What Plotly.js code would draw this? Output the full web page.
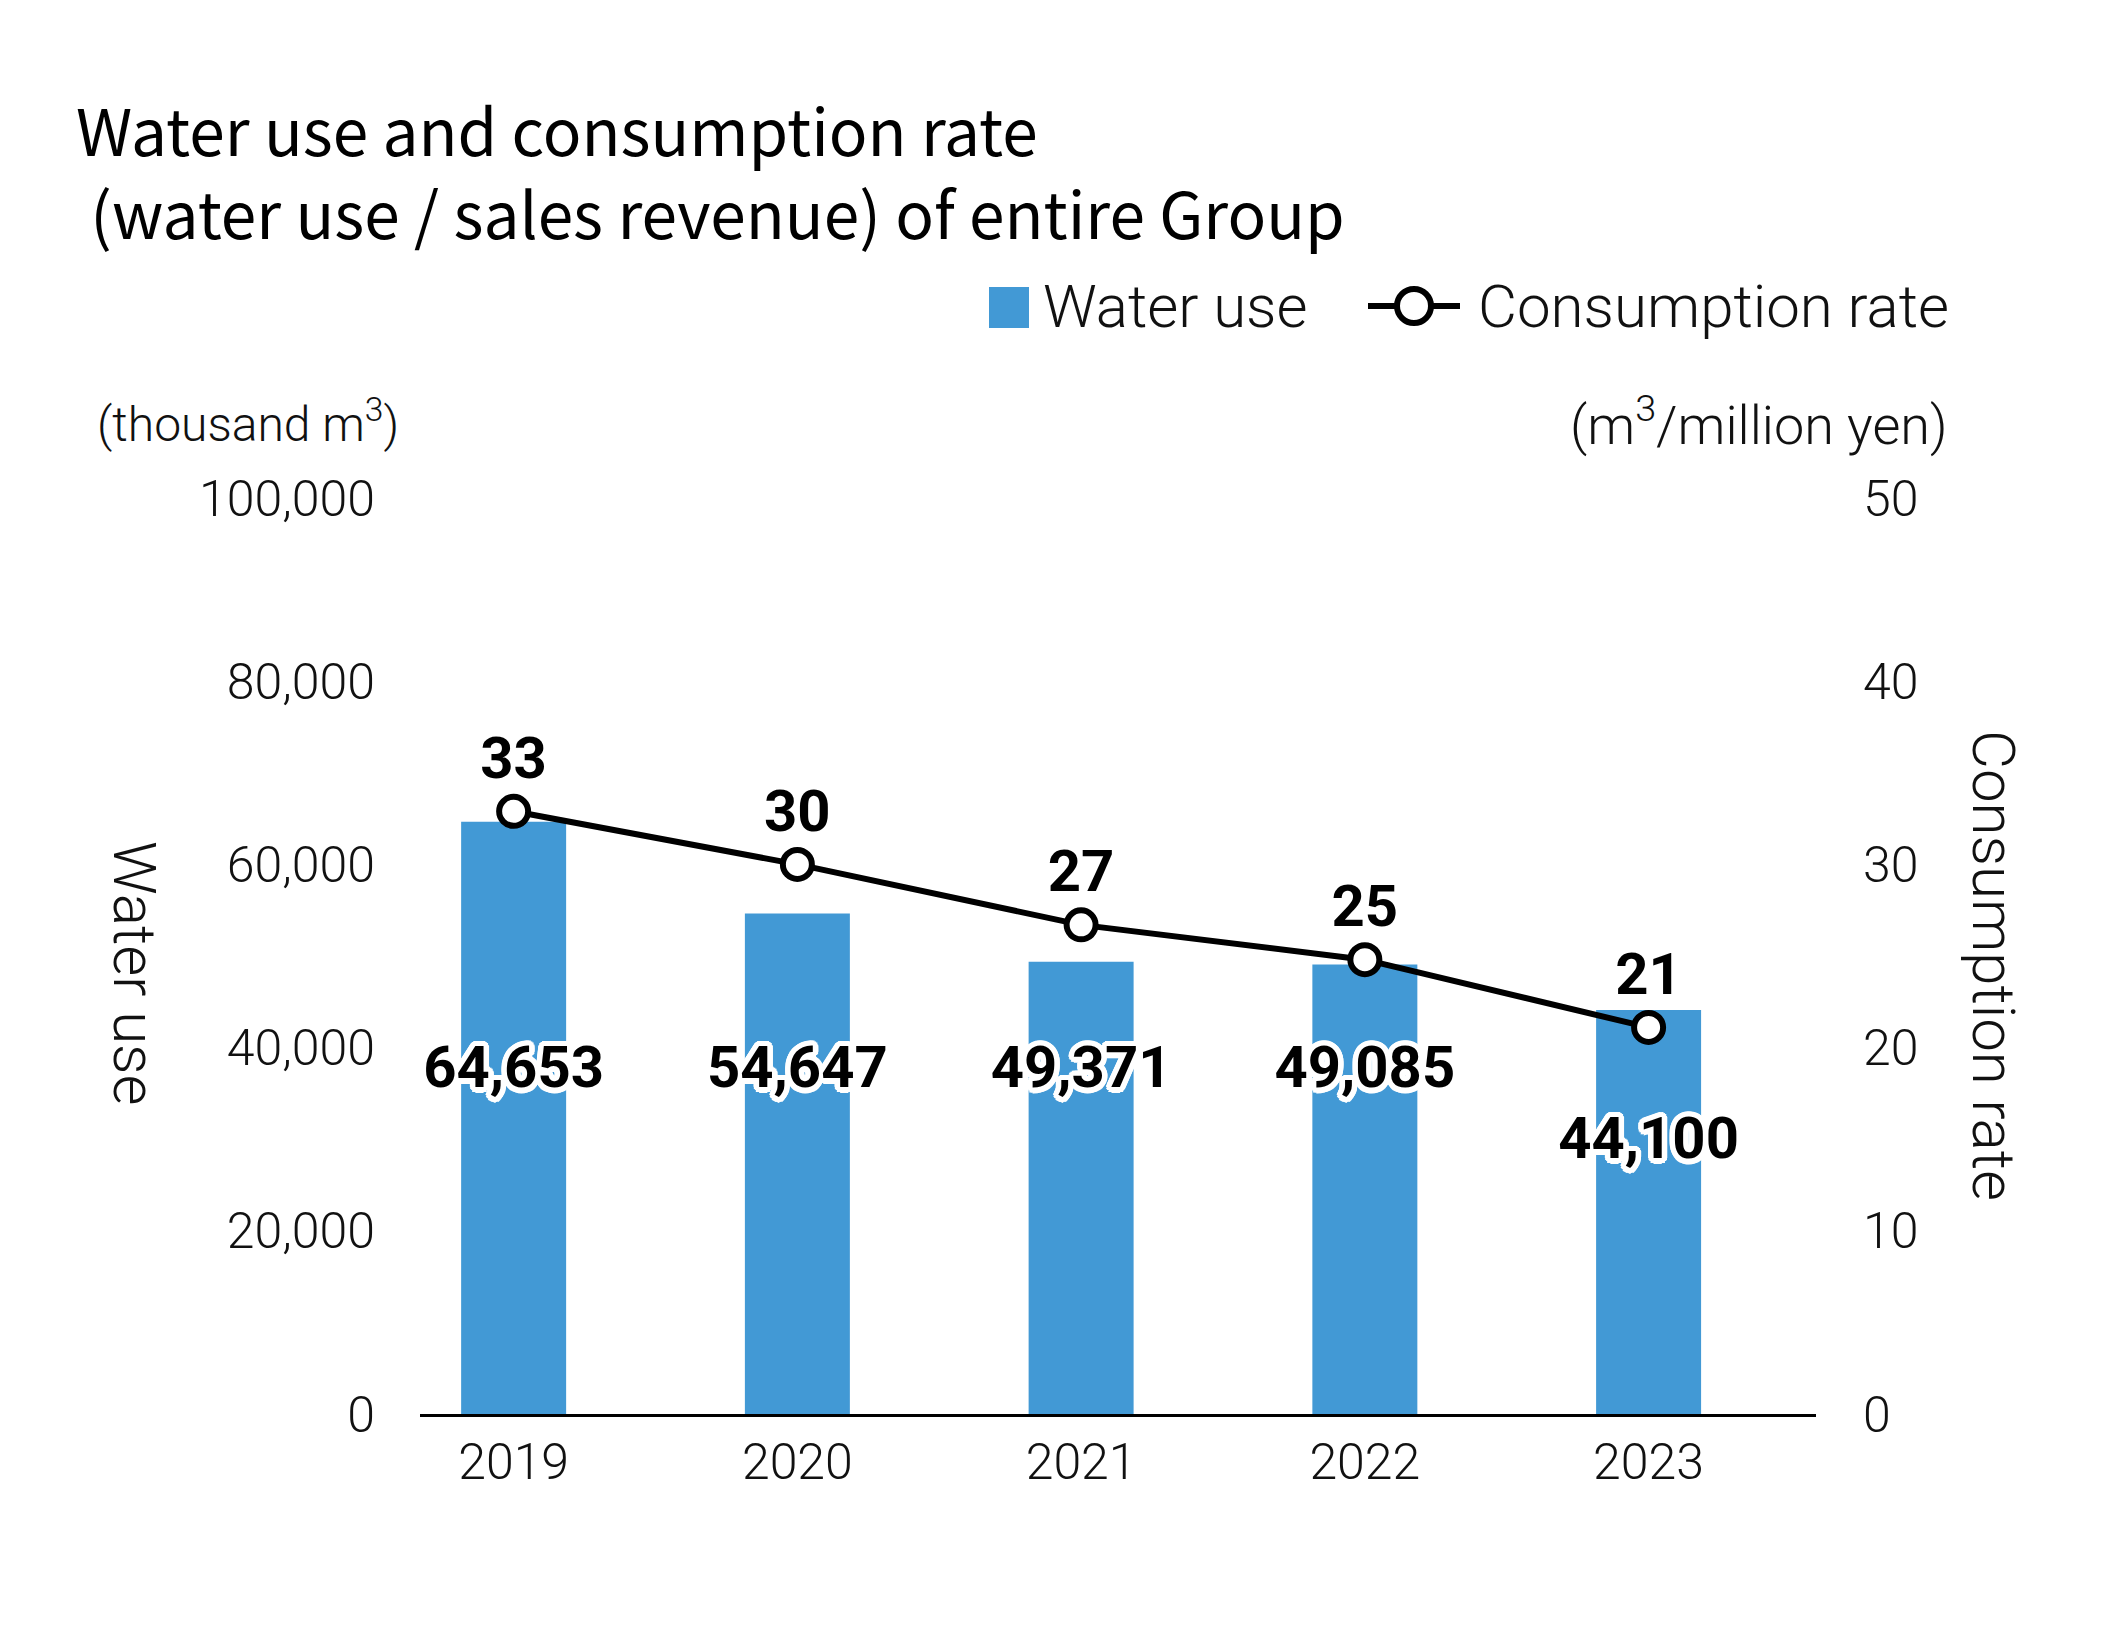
<!DOCTYPE html>
<html>
<head>
<meta charset="utf-8">
<script src="https://cdn.plot.ly/plotly-3.0.1.min.js"></script>
<style>html,body{margin:0;padding:0;background:#fff;}#chart{width:2115px;height:1635px;}</style>
</head>
<body>
<div id="chart"></div>
<script>
const years = ['2019', '2020', '2021', '2022', '2023'];
const waterUse = [64653, 54647, 49371, 49085, 44100];
const consumptionRate = [32.9, 30.0, 26.7, 24.8, 21.1];
const leftTicks = [0, 20000, 40000, 60000, 80000, 100000];
const rightTicks = [0, 10, 20, 30, 40, 50];

// pixel helpers (plot area: x 420..1816, y 498..1414)
const L = 420, R = 1816, T = 498, B = 1414;
const px = p => (p - L) / (R - L);
const py = p => (B - p) / (B - T);

const RATE_TO_USE = 100000 / 50;
const labelY = waterUse.map((v, i) => {
  const lineY = consumptionRate[i] * RATE_TO_USE;
  return Math.abs(lineY - 37250) < 8000 ? lineY - 12700 : 37250;
});

const outline = [];
for (let a = 0; a < 20; a++) {
  const ang = a / 20 * 2 * Math.PI;
  outline.push(`${(5.5 * Math.cos(ang)).toFixed(1)}px ${(5.5 * Math.sin(ang)).toFixed(1)}px 0 #fff`);
}
const shadow = outline.join(', ');

const traces = [
  {
    type: 'bar', x: years, y: waterUse, name: 'Water use',
    marker: {color: '#4299d5'}, width: 0.37, hoverinfo: 'x+y',
    showlegend: false
  },
  {
    type: 'scatter', mode: 'text', x: years, y: labelY,
    text: waterUse.map(v => v.toLocaleString('en-US')),
    textposition: 'middle center',
    textfont: {family: 'Roboto', size: 58, color: '#000', weight: 700, shadow: shadow},
    hoverinfo: 'skip', showlegend: false
  },
  {
    type: 'scatter', mode: 'lines+markers+text', x: years, y: consumptionRate, yaxis: 'y2',
    name: 'Consumption rate',
    line: {color: '#000', width: 6},
    marker: {size: 29, color: '#fff', line: {color: '#000', width: 6}},
    text: consumptionRate.map(v => Math.round(v).toString()),
    textposition: 'top center',
    textfont: {family: 'Roboto', size: 58, color: '#000', weight: 700},
    showlegend: false, cliponaxis: false
  }
];

const tickFont = {family: 'Roboto', size: 50, color: '#111', weight: 300};
const lblFont = {family: 'Roboto', size: 60, color: '#111', weight: 300};

const layout = {
  width: 2115, height: 1635,
  margin: {l: L, r: 2115 - R, t: T, b: 1635 - B, pad: 0},
  paper_bgcolor: '#fff', plot_bgcolor: '#fff',
  showlegend: false,
  title: {
    text: 'Water use and consumption rate<br> (water use / sales revenue) of entire Group',
    font: {family: 'Noto Sans CJK JP', size: 64, color: '#000'},
    x: 76 / 2115, xanchor: 'left', xref: 'container',
    y: 1 - 156 / 1635, yanchor: 'top', yref: 'container'
  },
  xaxis: {
    type: 'category', range: [-0.33, 4.59],
    showline: true, linecolor: '#000', linewidth: 3,
    ticks: '', showgrid: false, zeroline: false,
    tickfont: tickFont, ticklabelstandoff: 2
  },
  yaxis: {
    range: [0, 100000], tickvals: leftTicks, tickformat: ',d',
    showgrid: false, zeroline: false, showline: false, ticks: '',
    tickfont: tickFont, ticklabelstandoff: 44
  },
  yaxis2: {
    range: [0, 50], tickvals: rightTicks, overlaying: 'y', side: 'right',
    showgrid: false, zeroline: false, showline: false, ticks: '',
    tickfont: tickFont, ticklabelstandoff: 46
  },
  shapes: [
    {type: 'rect', xref: 'paper', yref: 'paper', x0: px(989), x1: px(1029), y0: py(328), y1: py(287),
     fillcolor: '#4299d5', line: {width: 0}},
    {type: 'line', xref: 'paper', yref: 'paper', x0: px(1368), x1: px(1460), y0: py(306), y1: py(306),
     line: {color: '#000', width: 6}},
    {type: 'circle', xref: 'paper', yref: 'paper', x0: px(1397), x1: px(1431), y0: py(323), y1: py(289),
     fillcolor: '#fff', line: {color: '#000', width: 6}}
  ],
  annotations: [
    {xref: 'paper', yref: 'paper', x: px(1041), y: py(306), xanchor: 'left', yanchor: 'middle',
     text: 'Water use', showarrow: false, font: lblFont},
    {xref: 'paper', yref: 'paper', x: px(1476), y: py(306), xanchor: 'left', yanchor: 'middle',
     text: 'Consumption rate', showarrow: false, font: lblFont},
    {xref: 'paper', yref: 'paper', x: px(95), y: py(422), xanchor: 'left', yanchor: 'middle',
     text: '(thousand m<sup>3</sup>)', showarrow: false, font: {family: 'Roboto', size: 48, color: '#111', weight: 300}},
    {xref: 'paper', yref: 'paper', x: px(1950), y: py(422), xanchor: 'right', yanchor: 'middle',
     text: '(m<sup>3</sup>/million yen)', showarrow: false, font: {family: 'Roboto', size: 54, color: '#111', weight: 300}},
    {xref: 'paper', yref: 'paper', x: px(135), y: py(973), xanchor: 'center', yanchor: 'middle',
     text: 'Water use', textangle: 90, showarrow: false, font: lblFont},
    {xref: 'paper', yref: 'paper', x: px(1994), y: py(965), xanchor: 'center', yanchor: 'middle',
     text: 'Consumption rate', textangle: 90, showarrow: false, font: lblFont}
  ]
};

Plotly.newPlot('chart', traces, layout, {displayModeBar: false, staticPlot: true});
</script>
</body>
</html>
